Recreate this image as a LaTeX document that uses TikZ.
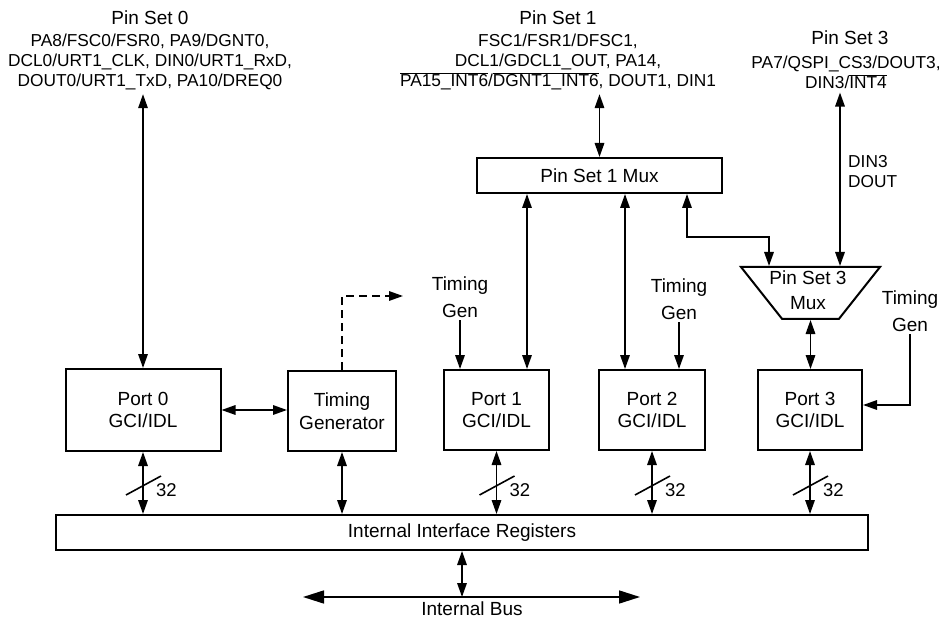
\documentclass[tikz,border=0pt]{standalone}
\usepackage{fontspec}
\setmainfont{Liberation Sans}
\usetikzlibrary{shapes.geometric, arrows.meta, positioning, calc}
\newcommand{\ovl}[1]{$\overline{\mbox{#1}}$}

\begin{document}
\begin{tikzpicture}[x=1pt,y=1pt,
		box/.style={draw,line width=2pt,align=center,inner sep=0pt,font=\fontsize{19}{22.5}\selectfont},
		port/.style={box,minimum width=105pt,minimum height=80pt},
		lbl/.style={align=center,inner sep=2pt,font=\fontsize{19}{27}\selectfont},
		pins/.style={align=center,inner sep=4pt,font=\fontsize{17.3}{20}\selectfont},
		wnum/.style={anchor=west,inner sep=0pt,font=\fontsize{18.5}{20}\selectfont},
		arr/.style={-{Triangle[length=14pt,width=9.5pt]},line width=1.6pt},
		dbl/.style={{Triangle[length=14pt,width=9.5pt]}-{Triangle[length=14pt,width=9.5pt]},line width=1.6pt},
		bus/.style={{Triangle[length=21pt,width=13pt]}-{Triangle[length=21pt,width=13pt]},line width=1.6pt},
		slash/.style={line width=1.6pt}
	]
	\useasboundingbox (0,0) rectangle (944,619);
	\node[lbl] (ps0) at (150,601) {Pin Set 0};
	\node[pins] (pins0) at (150,557) {PA8/FSC0/FSR0, PA9/DGNT0,\\DCL0/URT1\_CLK, DIN0/URT1\_RxD,\\DOUT0/URT1\_TxD, PA10/DREQ0};
	\node[lbl] (ps1) at (558,601) {Pin Set 1};
	\node[pins] (pins1) at (558,557) {FSC1/FSR1/DFSC1,\\DCL1/GDCL1\_OUT, PA14,\\\ovl{PA15\_INT6}/\ovl{DGNT1\_INT6}, DOUT1, DIN1};
	\node[lbl] (ps3) at (850,581) {Pin Set 3};
	\node[pins] (pins3) at (846,547) {PA7/QSPI\_CS3/DOUT3,\\DIN3/\ovl{INT4}};
	\node[pins,anchor=west,align=left] (din3) at (844,447) {DIN3\\DOUT};
	\node[box,minimum width=245pt,minimum height=35pt] (mux1) at (599.5,443.5) {Pin Set 1 Mux};
	\node[draw,line width=2pt,trapezium,trapezium angle=54,trapezium stretches=true,shape border rotate=180,minimum width=139pt,minimum height=52pt,inner sep=2pt] (mux3) at (810.5,326) {};
	\node[lbl,font=\fontsize{19}{25}\selectfont] (mux3t) at (808,329) {Pin Set 3\\Mux};
	\node[lbl] (tg1) at (460,321.5) {Timing\\Gen};
	\node[lbl] (tg2) at (679,319.5) {Timing\\Gen};
	\node[lbl] (tg3) at (910,307.5) {Timing\\Gen};
	\node[port,minimum width=155pt,minimum height=82pt] (port0) at (143,209) {Port 0\\GCI/IDL};
	\node[port,minimum width=108pt] (tg) at (342,208) {Timing\\Generator};
	\node[port] (port1) at (496.5,209) {Port 1\\GCI/IDL};
	\node[port,minimum width=106pt] (port2) at (652,209) {Port 2\\GCI/IDL};
	\node[port,minimum width=104pt] (port3) at (810,209) {Port 3\\GCI/IDL};
	\node[box,minimum width=812pt,minimum height=35pt] (regs) at (462,86.5) {Internal Interface Registers};
	\node[lbl] (buslbl) at (472,10) {Internal Bus};
	\coordinate (elbow) at (769,382);
	\coordinate (tgout) at (403,323);
	\coordinate (busl) at (303,22);
	\coordinate (busr) at (640,22);
	\draw[dbl] (port0.north) -- (port0.north |- pins0.south);
	\draw[dbl] (mux1.north) -- (mux1.north |- pins1.south);
	\draw[dbl] ([xshift=-6pt]pins3.south) -- ([xshift=-6pt]pins3.south |- mux3.north);
	\draw[dbl] ([xshift=87.5pt]mux1.south) |- (elbow) -- (elbow |- mux3.north);
	\draw[dbl] (mux3.south) -- (mux3.south |- port3.north);
	\draw[dbl] ([xshift=30.5pt]port1.north) -- ([xshift=30.5pt]port1.north |- mux1.south);
	\draw[dbl] ([xshift=-27pt]port2.north) -- ([xshift=-27pt]port2.north |- mux1.south);
	\draw[arr] (tg1.south) -- (tg1.south |- port1.north);
	\draw[arr] (tg2.south) -- (tg2.south |- port2.north);
	\draw[arr] (tg3.south) |- ([yshift=5pt]port3.east);
	\draw[arr,dash pattern=on 8pt off 5pt] (tg.north) |- (tgout);
	\draw[dbl] (port0.east) -- (port0.east -| tg.west);
	\draw[dbl] (port0.south) -- (port0.south |- regs.north);
	\draw[dbl] (tg.south) -- (tg.south |- regs.north);
	\draw[dbl] (port1.south) -- (port1.south |- regs.north);
	\draw[dbl] (port2.south) -- (port2.south |- regs.north);
	\draw[dbl] (port3.south) -- (port3.south |- regs.north);
	\draw[slash] ([xshift=-17pt,yshift=-43pt]port0.south) -- ++(35,19);
	\draw[slash] ([xshift=-17pt,yshift=-44pt]port1.south) -- ++(35,19);
	\draw[slash] ([xshift=-17pt,yshift=-44pt]port2.south) -- ++(35,19);
	\draw[slash] ([xshift=-17pt,yshift=-44pt]port3.south) -- ++(35,19);
	\node[wnum] (w0) at ([xshift=13pt,yshift=-38pt]port0.south) {32};
	\node[wnum] (w1) at ([xshift=13pt,yshift=-39pt]port1.south) {32};
	\node[wnum] (w2) at ([xshift=13pt,yshift=-39pt]port2.south) {32};
	\node[wnum] (w3) at ([xshift=13pt,yshift=-39pt]port3.south) {32};
	\draw[bus] (busl) -- (busr);
	\draw[dbl] (regs.south) -- (regs.south |- busl);
\end{tikzpicture}
\end{document}
